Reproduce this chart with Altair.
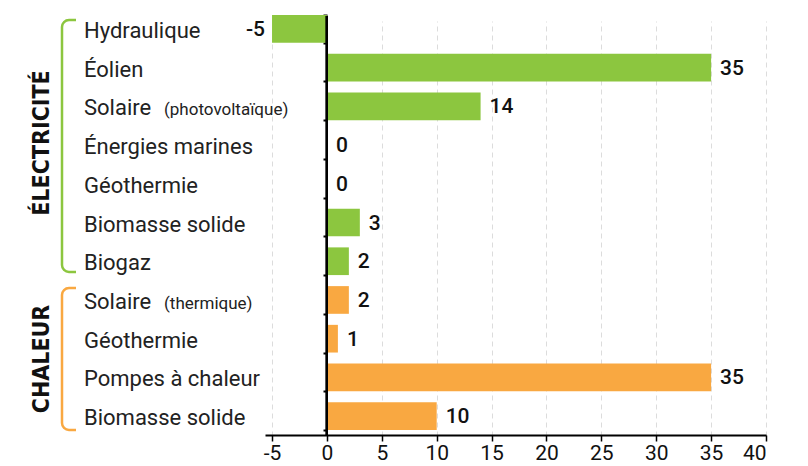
import altair as alt
import pandas as pd

# ---------------- data ----------------
groups = ["Électricité"] * 7 + ["Chaleur"] * 4
labels = ["Hydraulique", "Éolien", "Solaire", "Énergies marines", "Géothermie",
          "Biomasse solide", "Biogaz", "Solaire", "Géothermie",
          "Pompes à chaleur", "Biomasse solide"]
sublabels = ["", "", "(photovoltaïque)", "", "", "", "", "(thermique)", "", "", ""]
values = [-5, 35, 14, 0, 0, 3, 2, 2, 1, 35, 10]
group_names = ["Électricité", "Chaleur"]
group_titles = ["ÉLECTRICITÉ", "CHALEUR"]
x_ticks = [-5, 0, 5, 10, 15, 20, 25, 30, 35, 40]

df = pd.DataFrame({"group": groups, "label": labels, "sub": sublabels, "value": values})
df["key"] = [f"{i:02d} {g} {l}" for i, (g, l) in enumerate(zip(groups, labels))]
df["text"] = df["value"].astype(str)
order = list(df["key"])

# ---------------- style ----------------
GREEN = "#8cc63f"
ORANGE = "#f9a841"
NARROW = "DejaVu Sans Condensed, Roboto, sans-serif"
LABEL_FONT = "Roboto, Liberation Sans, sans-serif"
W, H = 501, 419

y_enc = alt.Y(
    "key:N", sort=order,
    scale=alt.Scale(range=[-1, 414], paddingInner=0.285, paddingOuter=0),
    axis=alt.Axis(title=None, labels=False, domain=False, ticks=True,
                  tickBand="extent", tickSize=4, tickWidth=2, tickColor="black",
                  offset=-62, grid=False),
)
x_enc = alt.X(
    "value:Q",
    scale=alt.Scale(domain=[-5.64, 40], nice=False, zero=False),
    axis=alt.Axis(values=x_ticks, title=None, labelExpr="datum.value",
                  domainColor="black", domainWidth=2,
                  tickColor="black", tickSize=6, tickWidth=1.5,
                  labelFont=LABEL_FONT, labelFontSize=21, labelColor="#111",
                  labelPadding=1,
                  gridColor="#dcdcdc", gridDash=[5, 4], gridWidth=1),
)
color_enc = alt.Color("group:N", scale=alt.Scale(domain=group_names, range=[GREEN, ORANGE]),
                      legend=None)

base = alt.Chart(df)

bars = base.mark_bar().encode(x=x_enc, x2=alt.datum(0), y=y_enc, color=color_enc)

zero_line = base.mark_rule(color="black", strokeWidth=2).encode(
    x=alt.datum(0), y=alt.value(0), y2=alt.value(H))

val_pos = base.transform_filter("datum.value >= 0").mark_text(
    align="left", baseline="middle", dx=9, dy=1, font=LABEL_FONT, fontSize=21,
    fontWeight=500, color="#111").encode(x="value:Q", y=y_enc, text="text:N")
val_neg = base.transform_filter("datum.value < 0").mark_text(
    align="right", baseline="middle", dx=-7, dy=1, font=LABEL_FONT, fontSize=21,
    fontWeight=500, color="#111").encode(x="value:Q", y=y_enc, text="text:N")

one = alt.Chart(pd.DataFrame({"g": [0]}))
br_green = one.mark_rect(fill=None, stroke=GREEN, strokeWidth=2.5, cornerRadius=7).encode(
    x=alt.value(-203), x2=alt.value(-170), y=alt.value(4), y2=alt.value(256))
br_orange = one.mark_rect(fill=None, stroke=ORANGE, strokeWidth=2.5, cornerRadius=7).encode(
    x=alt.value(-203), x2=alt.value(-170), y=alt.value(272), y2=alt.value(414))
cover = one.mark_rect(fill="white", stroke=None).encode(
    x=alt.value(-189), x2=alt.value(-160), y=alt.value(-10), y2=alt.value(H))

cat_labels = base.mark_text(
    align="left", baseline="alphabetic", dy=9, font=LABEL_FONT, fontSize=22,
    color="#222").encode(x=alt.value(-181), y=y_enc, text="label:N")
sub_labels = base.mark_text(
    align="left", baseline="alphabetic", dy=9, font=LABEL_FONT, fontSize=17,
    color="#222").encode(x=alt.value(-101), y=y_enc, text="sub:N")

titles_df = pd.DataFrame({"title": group_titles, "ypix": [127, 343]})
group_text = alt.Chart(titles_df).mark_text(
    angle=270, align="center", baseline="middle", font=NARROW, fontSize=23,
    fontWeight="bold", color="#111").encode(
    x=alt.value(-223), y=alt.Y("ypix:Q", scale=None), text="title:N")

chart = alt.layer(
    bars, zero_line, val_pos, val_neg, br_green, br_orange, cover,
    cat_labels, sub_labels, group_text
).properties(
    width=W, height=H,
    autosize=alt.AutoSizeParams(type="none"),
    padding={"left": 257, "top": 8, "right": 20, "bottom": 34},
).configure_view(stroke=None)

chart.save("out.html", embed_options={"renderer": "svg", "actions": False})
